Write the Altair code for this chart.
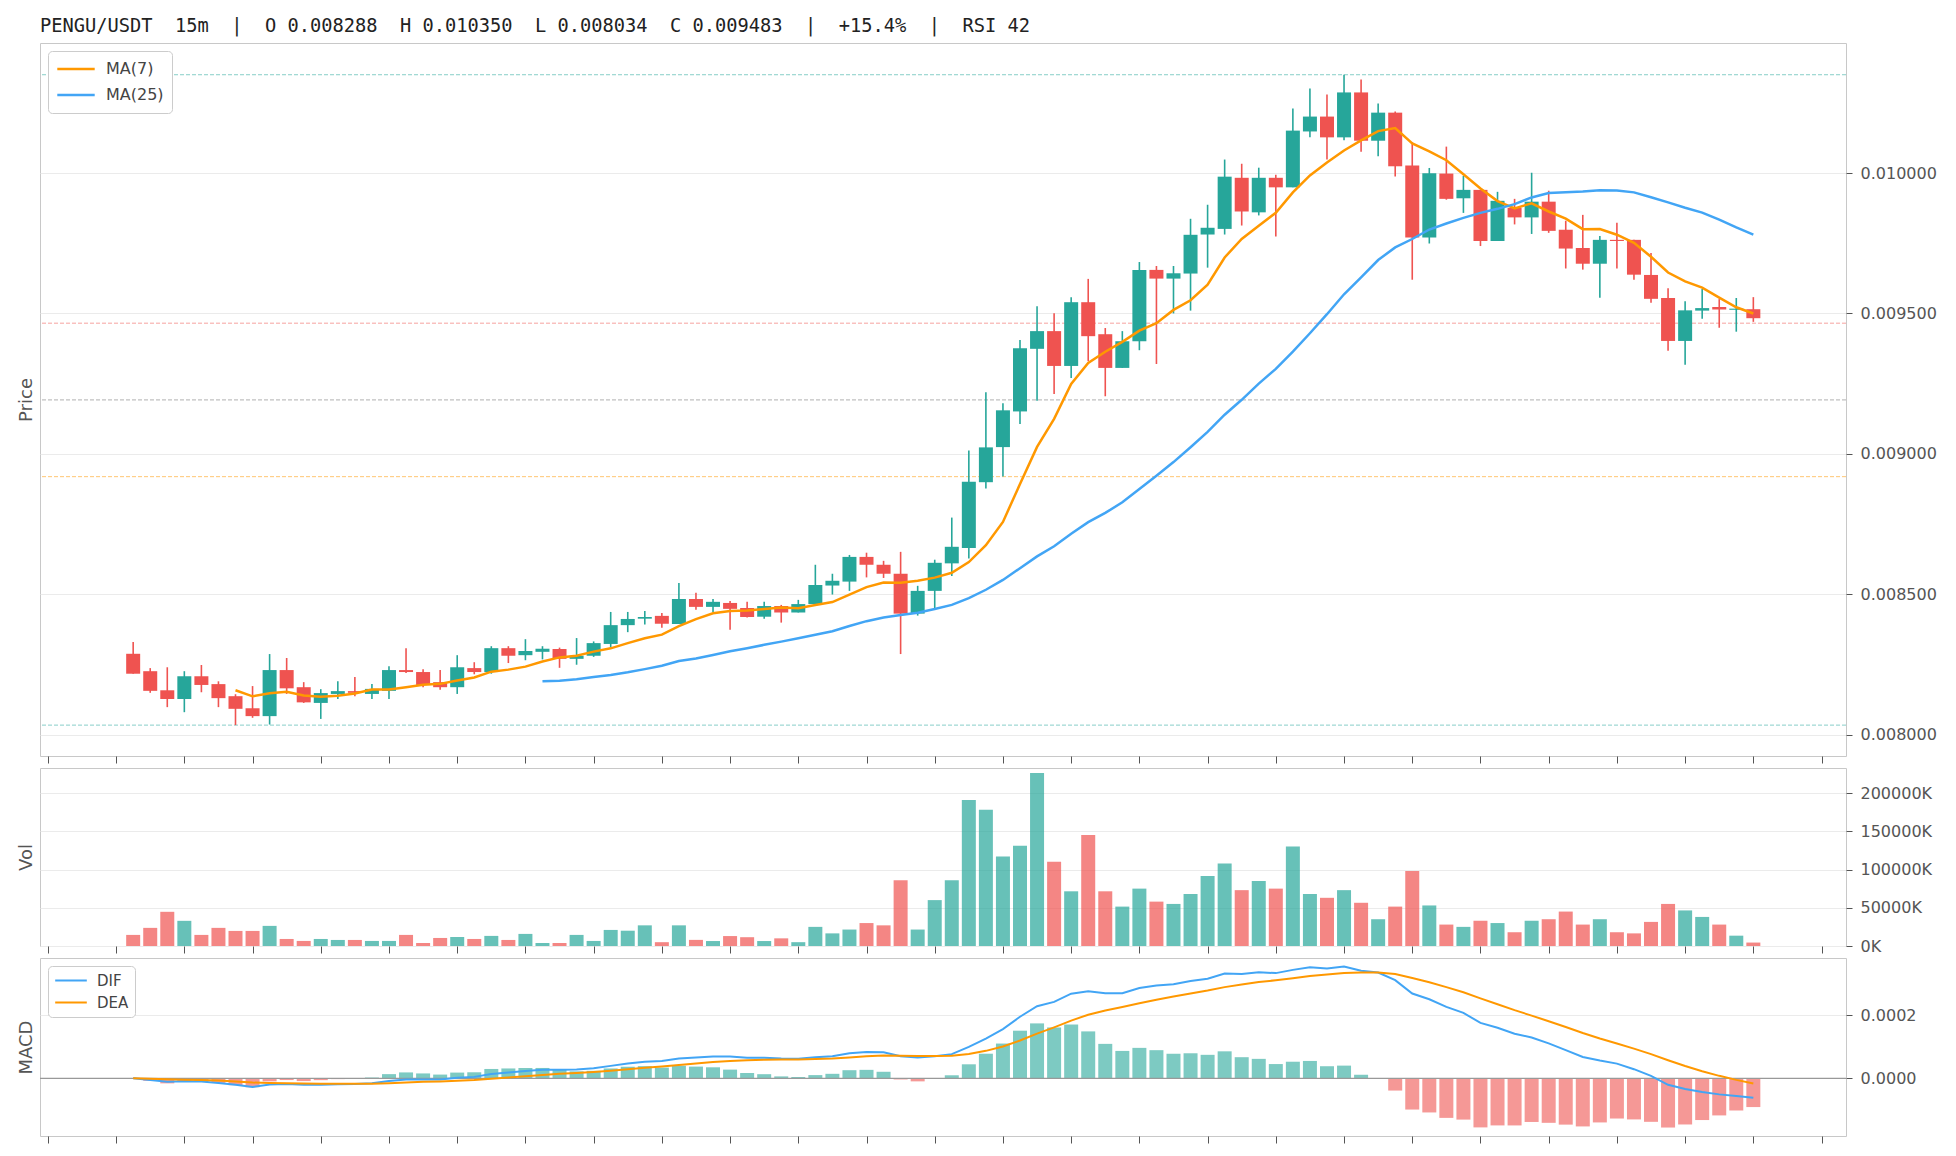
import altair as alt
import pandas as pd
import numpy as np

# ---------------- data ----------------
opens = [0.008288, 0.008226, 0.008158, 0.008127, 0.008208, 0.008180, 0.008137, 0.008094, 0.008066, 0.008230,
         0.008169, 0.008113, 0.008145, 0.008155, 0.008145, 0.008156, 0.008230, 0.008223, 0.008187, 0.008169,
         0.008237, 0.008223, 0.008308, 0.008283, 0.008295, 0.008305, 0.008270, 0.008281, 0.008323, 0.008390,
         0.008413, 0.008423, 0.008394, 0.008483, 0.008455, 0.008469, 0.008451, 0.008420, 0.008458, 0.008435,
         0.008465, 0.008531, 0.008545, 0.008633, 0.008605, 0.008573, 0.008431, 0.008512, 0.008610, 0.008665,
         0.008899, 0.009024, 0.009151, 0.009374, 0.009437, 0.009313, 0.009540, 0.009426, 0.009306, 0.009401,
         0.009655, 0.009624, 0.009642, 0.009781, 0.009801, 0.009983, 0.009860, 0.009983, 0.009949, 0.010148,
         0.010201, 0.010127, 0.010287, 0.010115, 0.010215, 0.010027, 0.009770, 0.009998, 0.009910, 0.009940,
         0.009758, 0.009876, 0.009842, 0.009898, 0.009798, 0.009733, 0.009677, 0.009762, 0.009762, 0.009637,
         0.009555, 0.009402, 0.009510, 0.009523, 0.009513, 0.009515]
highs = [0.008330, 0.008237, 0.008240, 0.008226, 0.008248, 0.008190, 0.008144, 0.008173, 0.008287, 0.008273,
         0.008187, 0.008162, 0.008190, 0.008205, 0.008180, 0.008244, 0.008308, 0.008233, 0.008230, 0.008283,
         0.008258, 0.008315, 0.008315, 0.008340, 0.008315, 0.008310, 0.008344, 0.008332, 0.008437, 0.008437,
         0.008440, 0.008433, 0.008540, 0.008505, 0.008483, 0.008476, 0.008473, 0.008473, 0.008462, 0.008480,
         0.008605, 0.008573, 0.008640, 0.008648, 0.008619, 0.008651, 0.008530, 0.008623, 0.008773, 0.009012,
         0.009219, 0.009180, 0.009405, 0.009526, 0.009501, 0.009558, 0.009623, 0.009448, 0.009437, 0.009683,
         0.009669, 0.009669, 0.009837, 0.009887, 0.010048, 0.010033, 0.010019, 0.009994, 0.010230, 0.010301,
         0.010280, 0.010350, 0.010333, 0.010248, 0.010219, 0.010110, 0.010018, 0.010094, 0.009990, 0.009940,
         0.009933, 0.009908, 0.010001, 0.009937, 0.009830, 0.009851, 0.009776, 0.009823, 0.009762, 0.009715,
         0.009590, 0.009543, 0.009587, 0.009551, 0.009555, 0.009558]
lows = [0.008217, 0.008149, 0.008098, 0.008080, 0.008151, 0.008098, 0.008034, 0.008060, 0.008036, 0.008145,
        0.008113, 0.008056, 0.008127, 0.008137, 0.008127, 0.008127, 0.008220, 0.008169, 0.008160, 0.008145,
        0.008215, 0.008217, 0.008255, 0.008265, 0.008268, 0.008238, 0.008249, 0.008277, 0.008311, 0.008365,
        0.008392, 0.008381, 0.008394, 0.008445, 0.008437, 0.008374, 0.008417, 0.008413, 0.008399, 0.008435,
        0.008465, 0.008499, 0.008512, 0.008560, 0.008558, 0.008287, 0.008424, 0.008451, 0.008565, 0.008627,
        0.008877, 0.008919, 0.009106, 0.009189, 0.009213, 0.009270, 0.009330, 0.009205, 0.009306, 0.009369,
        0.009320, 0.009500, 0.009510, 0.009663, 0.009781, 0.009813, 0.009849, 0.009774, 0.009949, 0.010127,
        0.010048, 0.010117, 0.010076, 0.010060, 0.009988, 0.009620, 0.009749, 0.009905, 0.009858, 0.009740,
        0.009758, 0.009817, 0.009783, 0.009787, 0.009660, 0.009656, 0.009556, 0.009660, 0.009620, 0.009538,
        0.009367, 0.009317, 0.009481, 0.009449, 0.009435, 0.009470]
closes = [0.008217, 0.008156, 0.008127, 0.008208, 0.008177, 0.008130, 0.008092, 0.008066, 0.008230, 0.008165,
          0.008115, 0.008148, 0.008155, 0.008149, 0.008163, 0.008230, 0.008223, 0.008177, 0.008169, 0.008240,
          0.008223, 0.008308, 0.008281, 0.008298, 0.008306, 0.008270, 0.008281, 0.008326, 0.008390, 0.008412,
          0.008419, 0.008395, 0.008483, 0.008455, 0.008473, 0.008448, 0.008419, 0.008458, 0.008435, 0.008465,
          0.008533, 0.008548, 0.008633, 0.008605, 0.008573, 0.008431, 0.008512, 0.008612, 0.008669, 0.008901,
          0.009023, 0.009155, 0.009376, 0.009437, 0.009313, 0.009540, 0.009419, 0.009306, 0.009401, 0.009655,
          0.009624, 0.009643, 0.009780, 0.009805, 0.009987, 0.009863, 0.009983, 0.009949, 0.010151, 0.010201,
          0.010127, 0.010287, 0.010115, 0.010215, 0.010024, 0.009770, 0.009999, 0.009908, 0.009940, 0.009758,
          0.009901, 0.009842, 0.009898, 0.009794, 0.009731, 0.009677, 0.009762, 0.009758, 0.009638, 0.009552,
          0.009402, 0.009511, 0.009519, 0.009514, 0.009517, 0.009483]
volumes_k = [14500, 23700, 44700, 32900, 14500, 23700, 19700, 19700, 26300, 9200,
             6600, 9200, 7900, 7900, 6600, 6600, 14500, 3900, 10500, 11800,
             9200, 13200, 7900, 15800, 3900, 3900, 14500, 6600, 21000, 20000,
             27000, 5000, 27000, 8000, 6500, 13000, 11500, 6500, 10000, 5000,
             25000, 16500, 21500, 30000, 27000, 86000, 21500, 60000, 86000, 191000,
             178000, 117000, 131000, 226000, 110000, 71500, 145000, 71500, 51500, 75000,
             58000, 55000, 68000, 91500, 108000, 73000, 85000, 75000, 130000, 68000,
             63000, 73000, 56500, 35000, 51500, 98000, 53000, 28000, 25000, 33000,
             30000, 18000, 33000, 35000, 45000, 28000, 35000, 18000, 16500, 31500,
             55000, 46500, 38000, 28000, 13500, 4500]

price_ticks = [0.008, 0.0085, 0.009, 0.0095, 0.010]
vol_ticks = [0, 50000, 100000, 150000, 200000]
macd_ticks = [0.0, 0.0002]
title_text = "PENGU/USDT  15m  |  O 0.008288  H 0.010350  L 0.008034  C 0.009483  |  +15.4%  |  RSI 42"

# ---------------- derived indicators ----------------
N = len(closes)
df = pd.DataFrame({"i": list(range(N)), "open": opens, "high": highs, "low": lows,
                   "close": closes, "vol": volumes_k})
c = pd.Series(closes)
ma7 = c.rolling(7).mean()
ma25 = c.rolling(25).mean()
dif = c.ewm(span=12, adjust=False).mean() - c.ewm(span=26, adjust=False).mean()
dea = dif.ewm(span=9, adjust=False).mean()
hist = 2 * (dif - dea)
df["hist"] = hist

ma_long = pd.concat([
    pd.DataFrame({"i": range(N), "v": ma7, "s": "MA(7)"}),
    pd.DataFrame({"i": range(N), "v": ma25, "s": "MA(25)"}),
]).dropna()
macd_long = pd.concat([
    pd.DataFrame({"i": range(N), "v": dif, "s": "DIF"}),
    pd.DataFrame({"i": range(N), "v": dea, "s": "DEA"}),
])

hi, lo = max(highs), min(lows)
levels = pd.DataFrame({
    "name": ["high", "f618", "f500", "f382", "low"],
    "level": [hi, lo + 0.618 * (hi - lo), lo + 0.5 * (hi - lo), lo + 0.382 * (hi - lo), lo],
})

# ---------------- style ----------------
UP, DOWN = "#26a69a", "#ef5350"
ORANGE, BLUE = "#ff9800", "#42a5f5"
W = 1806
H_PRICE, H_VOL, H_MACD = 713, 178, 178
XDOM = [-5.17, 100.14]

xaxis = alt.Axis(values=list(range(-5, 101, 4)), labels=False, ticks=True, tickSize=7,
                 tickColor="#555555", domain=False, grid=False, title=None)


def X():
    return alt.X("i:Q", scale=alt.Scale(domain=XDOM, nice=False, zero=False), axis=xaxis, title=None)


def yaxis(title, h, values, fmt=None, label_expr=None):
    kw = dict(orient="right", values=values, labelFontSize=16, labelColor="#555555",
              tickSize=6, tickColor="#555555", labelPadding=8, domain=False, grid=True,
              gridColor="#ebebeb", title=title, titleX=-W - 9, titleY=h / 2, titleAngle=270,
              titleBaseline="alphabetic", titleAlign="center", titleFontSize=18,
              titleFontWeight="normal", titleColor="#555555")
    if fmt:
        kw["format"] = fmt
    if label_expr:
        kw["labelExpr"] = label_expr
    return alt.Axis(**kw)


updown = alt.condition("datum.close >= datum.open", alt.value(UP), alt.value(DOWN))

# ---------------- price panel ----------------
pscale = alt.Scale(domain=[0.007924, 0.010463], nice=False, zero=False)
pax = yaxis("Price", H_PRICE, price_ticks, fmt=".6f")


def PY(field):
    return alt.Y(field, scale=pscale, axis=pax, title="Price")


base = alt.Chart(df)
wicks = base.mark_rule(strokeWidth=1.6).encode(x=X(), y=PY("low:Q"), y2="high:Q", color=updown)
bodies = base.mark_bar(size=14).encode(x=X(), y=PY("open:Q"), y2="close:Q", color=updown)

level_colors = {"high": UP, "low": UP, "f618": DOWN, "f500": "#9e9e9e", "f382": ORANGE}
level_layers = []
for name, col in level_colors.items():
    level_layers.append(
        alt.Chart(levels).transform_filter(alt.datum.name == name)
        .mark_rule(strokeDash=[4, 2], strokeWidth=1, color=col, opacity=0.55 if name != "f500" else 0.8)
        .encode(y=PY("level:Q"))
    )

ma_lines = alt.Chart(ma_long).mark_line(strokeWidth=2.5).encode(
    x=X(), y=PY("v:Q"),
    color=alt.Color("s:N", scale=alt.Scale(domain=["MA(7)", "MA(25)"], range=[ORANGE, BLUE]),
                    sort=["MA(7)", "MA(25)"],
                    legend=alt.Legend(title=None, orient="top-left", offset=8, padding=8,
                                      strokeColor="#cccccc", fillColor="white", cornerRadius=4,
                                      labelFontSize=16, labelColor="#444444", symbolType="stroke",
                                      symbolSize=1400, symbolStrokeWidth=2.5, clipHeight=20,
                                      rowPadding=6, labelOffset=10)),
)

price = alt.layer(*level_layers, wicks, bodies, ma_lines).properties(
    width=W, height=H_PRICE,
    title=alt.TitleParams(title_text.replace(" ", "\u00a0"), anchor="start", frame="group",
                          font="DejaVu Sans Mono", fontSize=18.7, fontWeight="normal",
                          color="#222222", offset=7),
)

# ---------------- volume panel ----------------
vscale = alt.Scale(domain=[0, 232680], nice=False, zero=True)
vol = alt.Chart(df).mark_bar(size=14, opacity=0.7).encode(
    x=X(),
    y=alt.Y("vol:Q", scale=vscale,
            axis=yaxis("Vol", H_VOL, vol_ticks, label_expr="format(datum.value, 'd') + 'K'"),
            title="Vol"),
    color=updown,
).properties(width=W, height=H_VOL)

# ---------------- MACD panel ----------------
mscale = alt.Scale(domain=[-0.000183, 0.000382], nice=False, zero=False)
max_ = yaxis("MACD", H_MACD, macd_ticks, fmt=".4f")


def MY(field):
    return alt.Y(field, scale=mscale, axis=max_, title="MACD")


hbars = alt.Chart(df).mark_bar(size=14, opacity=0.6).encode(
    x=X(), y=MY("hist:Q"), y2=alt.datum(0),
    color=alt.condition("datum.hist >= 0", alt.value(UP), alt.value(DOWN)),
)
zero = alt.Chart(pd.DataFrame({"z": [0.0]})).mark_rule(color="#999999", strokeWidth=1.2).encode(y=MY("z:Q"))
macd_lines = alt.Chart(macd_long).mark_line(strokeWidth=2).encode(
    x=X(), y=MY("v:Q"),
    color=alt.Color("s:N", scale=alt.Scale(domain=["DIF", "DEA"], range=[BLUE, ORANGE]),
                    sort=["DIF", "DEA"],
                    legend=alt.Legend(title=None, orient="top-left", offset=8, padding=6,
                                      strokeColor="#cccccc", fillColor="white", cornerRadius=4,
                                      labelFontSize=15, labelColor="#444444", symbolType="stroke",
                                      symbolSize=1000, symbolStrokeWidth=2, clipHeight=17,
                                      rowPadding=5, labelOffset=9)),
)
macd = alt.layer(hbars, zero, macd_lines).properties(width=W, height=H_MACD)

chart = alt.vconcat(price, vol, macd, spacing=12, bounds="flush").resolve_scale(
    color="independent", y="independent", x="independent"
).resolve_axis(x="independent", y="independent").properties(
    padding={"left": 8, "top": 8, "right": 5, "bottom": 5}
).configure(font="DejaVu Sans").configure_view(stroke="#c8c8c8", strokeWidth=1)

chart.save("out.html", embed_options={"renderer": "svg", "actions": False})
